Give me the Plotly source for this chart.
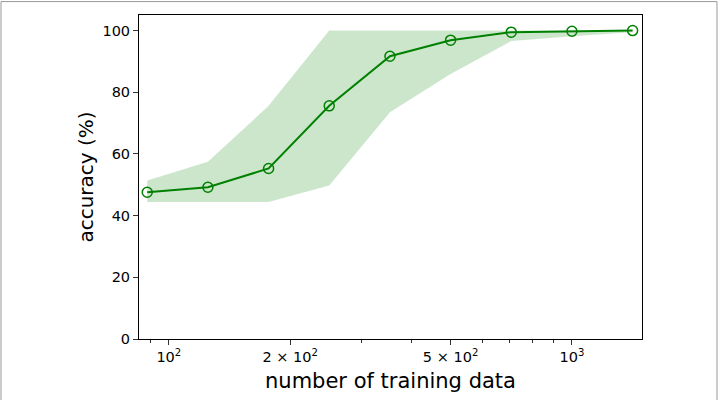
import plotly.graph_objects as go
import numpy as np

n_train = [88.4, 125, 176.8, 250, 353.6, 500, 707.1, 1000, 1414.2]
acc_mean = [47.6, 49.2, 55.3, 75.6, 91.7, 96.9, 99.5, 99.8, 100.0]
acc_upper = [51.4, 57.5, 75.6, 100.0, 100.0, 100.0, 100.0, 100.0, 100.0]
acc_lower = [44.4, 44.4, 44.4, 49.8, 73.5, 85.9, 96.6, 98.2, 99.5]

xtick_vals = [100, 200, 500, 1000]
xtick_text = ["10<sup>2</sup>", "2 × 10<sup>2</sup>", "5 × 10<sup>2</sup>", "10<sup>3</sup>"]
xminor_vals = [90, 300, 400, 600, 700, 800, 900]
ytick_vals = [0, 20, 40, 60, 80, 100]

green = "#008000"
fig = go.Figure()
fig.add_trace(go.Scatter(x=n_train + n_train[::-1], y=acc_upper + acc_lower[::-1],
                         fill="toself", fillcolor="rgba(0,128,0,0.2)",
                         line=dict(width=0), mode="lines", hoverinfo="skip", showlegend=False))
fig.add_trace(go.Scatter(x=n_train, y=acc_mean, mode="lines+markers",
                         line=dict(color=green, width=2),
                         marker=dict(symbol="circle-open", size=10, color=green, line=dict(width=1.5, color=green)),
                         showlegend=False))

L, R, T, B = 139, 78, 15, 59
fig.update_layout(
    width=720, height=400,
    margin=dict(l=L, r=R, t=T, b=B, pad=0),
    paper_bgcolor="white", plot_bgcolor="white",
    font=dict(family="DejaVu Sans", color="black", size=14),
    xaxis=dict(type="log", range=[1.926, 3.1738], tickvals=xtick_vals, ticktext=xtick_text,
               ticks="outside", ticklen=5, tickwidth=1, tickcolor="#333",
               minor=dict(tickvals=xminor_vals, ticks="outside", ticklen=3, tickwidth=1, tickcolor="#333"),
               showgrid=False, zeroline=False, showline=True, linecolor="black", linewidth=1, mirror=True,
               title=dict(text="number of training data", font=dict(size=21), standoff=8),
               tickfont=dict(size=14.5)),
    yaxis=dict(range=[0, 105.06], tickvals=ytick_vals, ticks="outside", ticklen=5, tickwidth=1, tickcolor="#333",
               showgrid=False, zeroline=False, showline=True, linecolor="black", linewidth=1, mirror=True,
               title=dict(text="accuracy (%)", font=dict(size=20), standoff=3),
               tickfont=dict(size=14.5)),
)
pw, ph = 720 - L - R, 400 - T - B
fig.add_shape(type="rect", xref="paper", yref="paper",
              x0=(1 - L) / pw, x1=(717 - L) / pw, y0=(341 - 420) / ph, y1=(341 - 1.5) / ph,
              line=dict(color="#999", width=1), fillcolor="rgba(0,0,0,0)", layer="below")
fig.write_html("out.html")
